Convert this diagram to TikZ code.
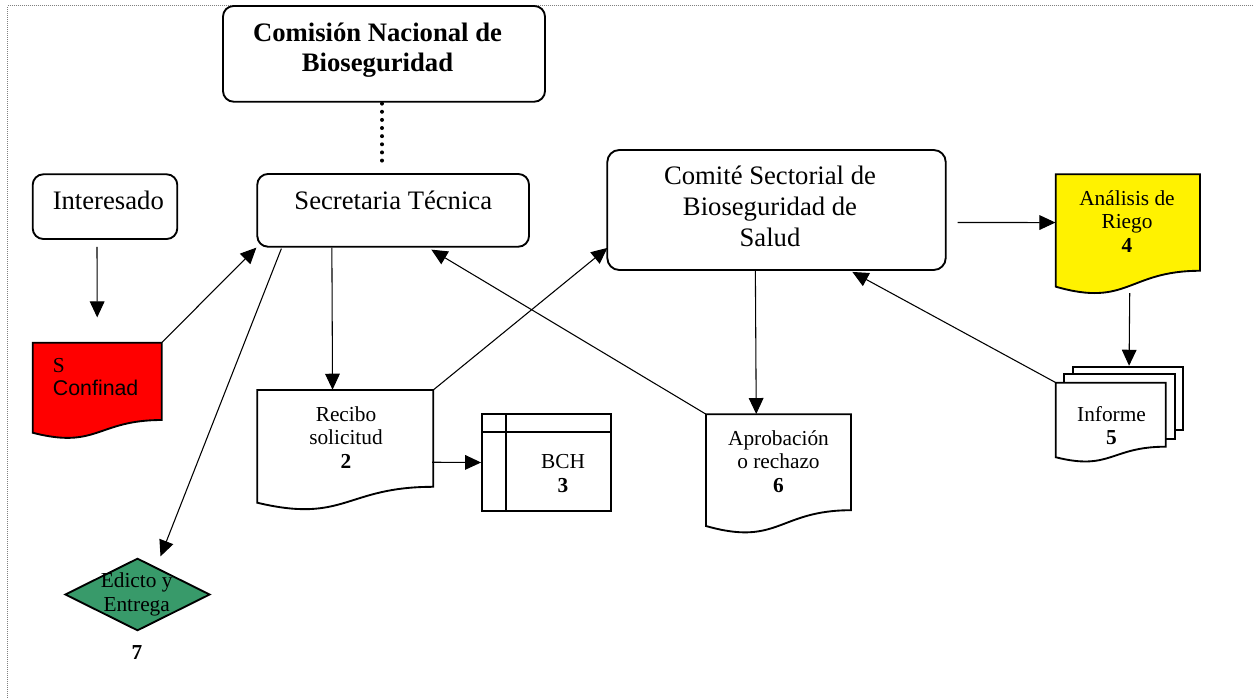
\documentclass[tikz,border=0pt]{standalone}
\usepackage{fontspec}
\setmainfont{Liberation Serif}
\setsansfont{Liberation Sans}
\usetikzlibrary{arrows.meta,calc,fit,shapes.geometric}
\definecolor{dgreen}{HTML}{389A6A}
\newcommand\docpath[5]{\draw[line width=1.4pt, fill=#5] (#1,#2) -- (#1+#3,#2) -- (#1+#3,#2+0.802*#4) .. controls (#1+0.5*#3,#2+0.802*#4) and (#1+0.5*#3,#2+1.1075*#4) .. (#1,#2+0.934*#4) -- cycle;}
\tikzset{
 rbox/.style={draw, line width=1.4pt, rounded corners=8pt, inner sep=0pt},
 pbox/.style={draw, line width=1.4pt, inner sep=0pt},
 hold/.style={inner sep=0pt},
 arr/.style={line width=0.8pt, -{Triangle[length=12pt,width=11pt]}},
 dotline/.style={line width=3pt, line cap=round, dash pattern=on 0pt off 6.1pt},
 border/.style={line width=0.75pt, gray, dash pattern=on 0.75pt off 0.75pt},
 bigtxt/.style={font=\fontsize{20}{23.25}\selectfont, align=center, inner sep=0pt},
 smalltxt/.style={font=\fontsize{16}{17.6}\selectfont, align=center, inner sep=0pt},
}
\begin{document}
\begin{tikzpicture}[x=0.75pt,y=-0.75pt]
\useasboundingbox (0,0) rectangle (1253,698);
\draw[border] (7.5,698) -- (7.5,6) -- (1253,6);

% rounded boxes
\node[rbox, fill=white, fit={(223,6) (545,101.7)}] (cnb) {};
\node[rbox, fit={(257.3,174) (529,246.7)}] (sec) {};
\node[rbox, fit={(32.7,174.3) (177.3,239)}] (int) {};
\node[rbox, rounded corners=9pt, fit={(607.3,150) (945.7,270)}] (com) {};

% documents
\docpath{32.7}{342.7}{129}{96.4}{red}
\node[hold, fit={(32.7,342.7) (161.7,420)}] (red) {};
\docpath{257.3}{390}{176}{120.7}{white}
\node[hold, fit={(257.3,390) (433.3,486.8)}] (rec) {};
\docpath{706}{414.3}{145}{119.6}{white}
\node[hold, fit={(706,414.3) (851,510.2)}] (apro) {};
\docpath{1055.7}{174.3}{144.3}{120.3}{yellow}
\node[hold, fit={(1055.7,174.3) (1200,270.8)}] (ana) {};
% multi document
\node[pbox, fill=white, fit={(1072.7,366.7) (1183.3,430)}] (infc) {};
\node[pbox, fill=white, fit={(1064,374.3) (1174.7,438.7)}] (infb) {};
\docpath{1055.7}{382.7}{110}{79.8}{white}
\node[hold, fit={(1055.7,382.7) (1165.7,446.7)}] (inf) {};

% BCH
\node[pbox, fit={(482,414.3) (610.7,510.7)}] (bch) {};
\draw[line width=1.4pt] ($(bch.north west)+(25.3,0)$) -- ($(bch.south west)+(25.3,0)$);
\draw[line width=1.4pt] ($(bch.north west)+(0,19)$) -- ($(bch.north east)+(0,19)$);

% diamond
\node[draw, line width=1.4pt, fill=dgreen, diamond, minimum width=108.75pt, minimum height=54.3pt, inner sep=0pt] (dia) at (137.5,594.5) {};

% texts
\node[bigtxt, font=\bfseries\fontsize{20}{22.5}\selectfont] (cnbt) at (377.5,50.5) {Comisión Nacional de\\Bioseguridad};
\node[bigtxt, anchor=base] (sect) at (393.3,209.5) {Secretaria Técnica};
\node[bigtxt, anchor=base] (intt) at (108.3,210) {Interesado};
\node[bigtxt] (comt) at (770,206.7) {Comité Sectorial de\\Bioseguridad de\\Salud};
\node[smalltxt] (rect) at (346,437.4) {Recibo\\solicitud\\\textbf{2}};
\node[smalltxt] (bcht) at (563,473.5) {BCH\\\textbf{3}};
\node[smalltxt] (aprot) at (778.5,461.4) {Aprobación\\o rechazo\\\textbf{6}};
\node[smalltxt] (anat) at (1127,221.2) {Análisis de\\Riego\\\textbf{4}};
\node[smalltxt] (inft) at (1111.5,425.6) {Informe\\\textbf{5}};
\node[smalltxt, align=left, anchor=west] (redt) at (52.7,377) {S\\{\sffamily Confinad}};
\node[smalltxt] (diat) at (136.7,594.5) {Edicto y\\Entrega};
\node[smalltxt, font=\bfseries\fontsize{16}{17.6}\selectfont] (seven) at (137,653) {7};

% connectors
\draw[dotline] ($(cnb.south)+(-2,1)$) -- ($(cnb.south)+(-2,66)$);
\draw[arr] ($(int.south)+(-8,7)$) -- ($(red.north)+(0,-25)$);
\draw[arr] (red.north east) -- (sec.south west);
\draw[arr] ($(sec.south west)+(25,1)$) -- ($(dia.north)+(23,-1)$);
\draw[arr] ($(sec.south west)+(75.5,0)$) -- ($(rec.north west)+(75.5,0)$);
\draw[arr] ($(rec.north east)+(-1.5,72.5)$) -- (bch.west);
\draw[arr] (rec.north east) -- ($(com.south west)+(1,-23)$);
\draw[arr] ($(com.south west)+(149,0)$) -- ($(apro.north west)+(50.5,0)$);
\draw[arr] (apro.north west) -- ($(sec.south west)+(175,2)$);
\draw[arr] (inf.north west) -- ($(com.south west)+(246,1)$);
\draw[arr] ($(com.east)+(11,12.5)$) -- (ana.west);
\draw[arr] ($(ana.north west)+(74.3,119)$) -- ($(infc.north west)+(57.3,0)$);
\end{tikzpicture}
\end{document}
